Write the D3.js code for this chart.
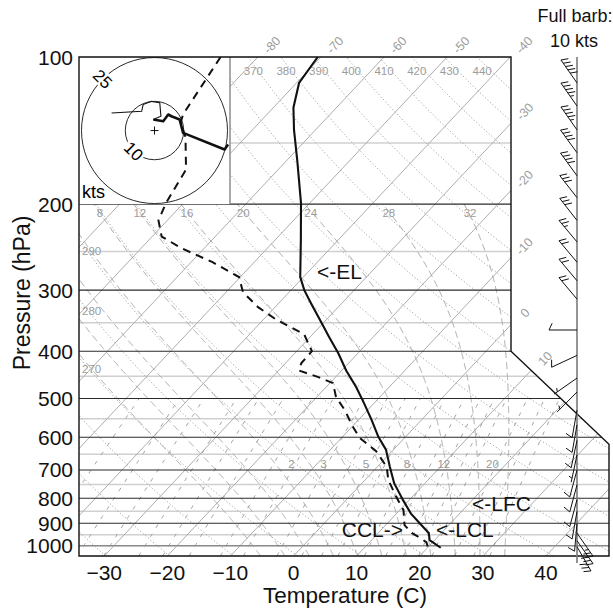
<!DOCTYPE html>
<html>
<head>
<meta charset="utf-8">
<script src="https://cdn.jsdelivr.net/npm/d3@7/dist/d3.min.js"></script>
<style>
  body { margin: 0; background: #fff; }
  svg { display: block; }
  text { font-family: "Liberation Sans", Arial, Helvetica, sans-serif; }
</style>
</head>
<body>
<svg id="chart" width="613" height="611"></svg>
<script>
// ---------------- sounding data ----------------
const tempPressure = [100, 113, 127, 141, 163, 199, 237, 282, 300, 319, 350, 374, 404, 438, 474, 511, 553, 599, 636, 690, 745, 808, 860, 917, 942, 974, 1010];
const tempValues   = [-70.5, -69.6, -66.8, -63.4, -58.3, -51.4, -45.9, -40.5, -37.9, -34.9, -30.3, -27.0, -23.1, -19.3, -15.2, -11.6, -7.9, -4.3, -1.2, 2.0, 5.1, 9.1, 12.3, 16.3, 18.0, 19.2, 22.1];

const dewPressure = [100, 131, 136, 146, 170, 181, 199, 216, 233, 246, 263, 282, 303, 325, 345, 369, 400, 423, 438, 452, 465, 497, 529, 566, 602, 641, 690, 734, 795, 846, 908, 942, 960, 984, 1010];
const dewValues   = [-85.9, -83.3, -82.5, -79.5, -74.6, -73.9, -72.8, -71.4, -68.5, -63.7, -56.6, -50.2, -47.3, -42.7, -37.9, -31.4, -27.6, -27.5, -26.8, -22.7, -19.5, -16.9, -13.5, -10.3, -7.1, -2.5, 1.5, 3.7, 7.5, 10.6, 13.0, 15.3, 17.0, 19.0, 20.1];

// winds (direction from, degrees; speed, kts)
const windPressure  = [113, 126, 141, 157, 175, 194, 216, 239, 263, 287, 313, 362, 408, 454, 485, 528, 566, 609, 652, 700, 751, 805, 851, 900, 943, 977, 1005];
const windDirection = [325, 325, 325, 324, 324, 322, 322, 320, 320, 320, 320, 270, 245, 235, 225, 190, 190, 192, 192, 195, 195, 195, 190, 185, 145, 145, 150];
const windSpeed     = [50, 45, 45, 40, 40, 30, 30, 25, 20, 20, 20, 10, 10, 5, 5, 10, 10, 10, 5, 10, 10, 10, 10, 10, 25, 30, 30];

// hodograph trace (u, v in kts): lower part drawn heavy, upper part light
const hodoLowU  = [25.2, 24.0, 9.8, 8.6, 5.8, 4.7, 3.0, -0.4];
const hodoLowV  = [-4.8, -6.5, -0.8, 3.8, 4.9, 5.5, 3.2, 3.8];
const hodoHighU = [-0.4, 2.2, 1.8, -1.0, -3.9, -4.4, -14.7];
const hodoHighV = [3.8, 4.9, 9.5, 10.0, 8.9, 6.6, 6.0];
const hodoRings = [10, 25];

// ---------------- axes and reference lines ----------------
const pressureTicks = [100, 200, 300, 400, 500, 600, 700, 800, 900, 1000];
const minorIsobars  = [150, 250, 350, 450, 550, 650, 750, 850, 950, 1000];
const tempTicks     = [-30, -20, -10, 0, 10, 20, 30, 40];
const isotherms     = [-120, -110, -100, -90, -80, -70, -60, -50, -40, -30, -20, -10, 0, 10, 20, 30, 40, 50];
const isothermTopLabels   = [-80, -70, -60, -50, -40];
const isothermRightLabels = [-30, -20, -10, 0, 10];
const dryThetas     = [240, 250, 260, 270, 280, 290, 300, 310, 320, 330, 340, 350, 360, 370, 380, 390, 400, 410, 420, 430, 440, 450];
const dryTopLabels  = [370, 380, 390, 400, 410, 420, 430, 440];
const dryLeftLabels = [290, 280, 270];
const moistThetaW   = [-8, -4, 0, 4, 8, 12, 16, 20, 24, 28, 32];
const moistLabels   = [8, 12, 16, 20, 24, 28, 32];
const mixingRatios  = [0.1, 0.2, 0.3, 0.5, 0.7, 1, 1.5, 2, 3, 4, 5, 6, 8, 10, 12, 14, 16, 20, 24, 28];
const mixingLabels  = [2, 3, 5, 8, 12, 20];

// ---------------- layout ----------------
const P_TOP = 100, P_BOTTOM = 1050;
const SKEW = 0.94;                 // horizontal px per vertical px of isotherm tilt
const x = d3.scaleLinear().domain([-34, 50]).range([79, 609]);
const y = d3.scaleLog().domain([P_TOP, P_BOTTOM]).range([57, 556]);
const yBase = y(P_BOTTOM);
const sx = (T, p) => x(T) + SKEW * (yBase - y(p));

const xLeft = x.range()[0], xRight = x.range()[1];
const innerRight = 511;            // right edge of the upper part of the frame
const stepTopP = 400, stepBottomP = 620;
const framePts = [
  [xLeft, y(P_TOP)], [innerRight, y(P_TOP)], [innerRight, y(stepTopP)],
  [xRight, y(stepBottomP)], [xRight, y(P_BOTTOM)], [xLeft, y(P_BOTTOM)]
];

// hodograph inset box
const hodo = { x0: xLeft, y0: y(P_TOP), x1: 230, y1: y(200) };
const hodoCx = (hodo.x0 + hodo.x1) / 2, hodoCy = (hodo.y0 + hodo.y1) / 2;
const hr = d3.scaleLinear().domain([0, 25]).range([0, 73]);

// barb column
const staffX = 577;

// ---------------- thermodynamics ----------------
const KAPPA = 0.2857;
const satVap = Tc => 6.112 * Math.exp(17.67 * Tc / (Tc + 243.5));
const dewFromVap = e => { const l = Math.log(e / 6.112); return 243.5 * l / (17.67 - l); };
function moistLapse(p, Tk) {
  const Rd = 287.04, Cp = 1005.7, Lv = 2.501e6, eps = 0.622;
  const es = satVap(Tk - 273.15);
  const rs = eps * es / (p - es);
  return (1 / p) * (Rd * Tk + Lv * rs) / (Cp + Lv * Lv * rs * eps / (Rd * Tk * Tk));
}
function moistAdiabat(thetaW, pEnd) {
  const up = [], down = [];
  let T = thetaW + 273.15, p = 1000, dp = -1;
  up.push([p, T]);
  while (p > pEnd) {
    const k1 = moistLapse(p, T);
    const k2 = moistLapse(p + dp / 2, T + dp / 2 * k1);
    T += dp * k2; p += dp; up.push([p, T]);
  }
  T = thetaW + 273.15; p = 1000; dp = 1;
  while (p < P_BOTTOM) {
    const k1 = moistLapse(p, T);
    const k2 = moistLapse(p + dp / 2, T + dp / 2 * k1);
    T += dp * k2; p += dp; down.push([p, T]);
  }
  return down.reverse().concat(up).map(([pp, tk]) => ({ p: pp, T: tk - 273.15 }));
}
const pLevels = (pHi, pLo, n) => d3.range(n + 1).map(i => pHi * Math.pow(pLo / pHi, i / n));

// ---------------- drawing ----------------
const svg = d3.select("#chart");
svg.append("defs").append("clipPath").attr("id", "frameClip")
  .append("polygon").attr("points", framePts.map(d => d.join(",")).join(" "));

const grid = svg.append("g").attr("clip-path", "url(#frameClip)");
const skewLine = d3.line().x(d => sx(d.T, d.p)).y(d => y(d.p));

// light isobars
grid.selectAll(".isobar-minor").data(minorIsobars).join("line")
  .attr("x1", xLeft).attr("x2", xRight).attr("y1", d => y(d)).attr("y2", d => y(d))
  .attr("stroke", d => d === 1000 ? "#a8a8a8" : "#d0d0d0").attr("stroke-width", 1.5);

// isotherms
grid.selectAll(".isotherm").data(isotherms).join("line")
  .attr("x1", d => sx(d, P_BOTTOM)).attr("y1", y(P_BOTTOM))
  .attr("x2", d => sx(d, P_TOP)).attr("y2", y(P_TOP))
  .attr("stroke", "#adadad").attr("stroke-width", 1);

// dry adiabats
const allP = pLevels(P_BOTTOM, P_TOP, 90);
grid.selectAll(".dry").data(dryThetas).join("path")
  .attr("d", th => skewLine(allP.map(p => ({ p, T: th * Math.pow(p / 1000, KAPPA) - 273.15 }))))
  .attr("fill", "none").attr("stroke", "#9a9a9a").attr("stroke-width", 0.9)
  .attr("stroke-dasharray", "1.2,2.2");

// moist adiabats
const moistCurves = moistThetaW.map(tw => ({ tw, pts: moistAdiabat(tw, 200) }));
grid.selectAll(".moist").data(moistCurves).join("path")
  .attr("d", d => skewLine(d.pts))
  .attr("fill", "none").attr("stroke", "#a5a5a5").attr("stroke-width", 1)
  .attr("stroke-dasharray", "7,4");

// mixing ratio lines
const mixP = pLevels(P_BOTTOM, 500, 40);
grid.selectAll(".mixing").data(mixingRatios).join("path")
  .attr("d", w => skewLine(mixP.map(p => ({ p, T: dewFromVap(w * p / (622 + w)) }))))
  .attr("fill", "none").attr("stroke", "#9a9a9a").attr("stroke-width", 0.9)
  .attr("stroke-dasharray", "4,7");

// major isobars
grid.selectAll(".isobar").data(pressureTicks.filter(p => p > P_TOP)).join("line")
  .attr("x1", xLeft).attr("x2", xRight).attr("y1", d => y(d)).attr("y2", d => y(d))
  .attr("stroke", d => d === 1000 ? "#8a8a8a" : "#2a2a2a").attr("stroke-width", 1.1);

// ---- grid labels ----
const glab = svg.append("g").attr("fill", "#9c9c9c").attr("font-size", 11.5);
function lastInside(T) {
  const ps = pLevels(P_BOTTOM, P_TOP, 600);
  let last = null;
  for (const p of ps) {
    const pt = [sx(T, p), y(p)];
    if (d3.polygonContains(framePts, pt)) last = pt;
  }
  return last;
}
isothermTopLabels.concat(isothermRightLabels).forEach(T => {
  const pt = lastInside(T);
  if (!pt) return;
  glab.append("text")
    .attr("transform", `translate(${pt[0] + 14},${pt[1] - 12}) rotate(-47)`)
    .attr("text-anchor", "middle").attr("dy", "0.35em").attr("font-size", 12.5)
    .text(T < 0 ? "-" + Math.abs(T) : String(T));
});
dryTopLabels.forEach(th => {
  const T = th * Math.pow(P_TOP / 1000, KAPPA) - 273.15;
  glab.append("text").attr("x", sx(T, P_TOP) + 5).attr("y", y(P_TOP) + 18)
    .attr("text-anchor", "middle").text(th);
});
dryLeftLabels.forEach(th => {
  let lo = P_TOP, hi = P_BOTTOM;
  for (let i = 0; i < 40; i++) {
    const mid = Math.sqrt(lo * hi);
    const xm = sx(th * Math.pow(mid / 1000, KAPPA) - 273.15, mid);
    if (xm < xLeft) lo = mid; else hi = mid;
  }
  glab.append("text").attr("x", xLeft + 3).attr("y", y(lo) + 16).text(th);
});
moistCurves.filter(d => moistLabels.includes(d.tw)).forEach(d => {
  const top = d.pts[d.pts.length - 1];
  glab.append("text").attr("x", sx(top.T, top.p) + 6).attr("y", y(200) + 13)
    .attr("text-anchor", "middle").text(d.tw);
});
const mixLabelP = 680;
mixingLabels.forEach(w => {
  const T = dewFromVap(w * mixLabelP / (622 + w));
  glab.append("text").attr("x", sx(T, mixLabelP) - 4).attr("y", y(mixLabelP) + 4)
    .attr("text-anchor", "middle").text(w);
});

// ---- hodograph inset ----
const hg = svg.append("g");
hg.append("rect").attr("x", hodo.x0).attr("y", hodo.y0)
  .attr("width", hodo.x1 - hodo.x0).attr("height", hodo.y1 - hodo.y0).attr("fill", "#fff");
hg.append("line").attr("x1", hodo.x1).attr("x2", hodo.x1).attr("y1", hodo.y0).attr("y2", hodo.y1)
  .attr("stroke", "#8c8c8c").attr("stroke-width", 1.5);
hg.selectAll(".ring").data(hodoRings).join("circle")
  .attr("cx", hodoCx).attr("cy", hodoCy).attr("r", d => hr(d))
  .attr("fill", "none").attr("stroke", "#111").attr("stroke-width", 0.9);
hg.append("path").attr("d", `M${hodoCx - 4},${hodoCy}h8M${hodoCx},${hodoCy - 4}v8`)
  .attr("stroke", "#111").attr("stroke-width", 1);
[[25, 135], [10, 225]].forEach(([v, ang]) => {
  const a = ang * Math.PI / 180;
  const cx = hodoCx + hr(v) * Math.cos(a), cy = hodoCy - hr(v) * Math.sin(a);
  const g = hg.append("g").attr("transform", `translate(${cx},${cy}) rotate(45)`);
  g.append("rect").attr("x", -11).attr("y", -8).attr("width", 22).attr("height", 16).attr("fill", "#fff");
  g.append("text").attr("text-anchor", "middle").attr("dy", "0.36em").attr("font-size", 17).text(v);
});
hg.append("text").attr("x", hodo.x0 + 3).attr("y", hodo.y1 - 6).attr("font-size", 18).text("kts");
const hodoLine = d3.line().x(d => hodoCx + hr(d[0])).y(d => hodoCy - hr(d[1]));
hg.append("path").attr("d", hodoLine(hodoHighU.map((u, i) => [u, hodoHighV[i]])))
  .attr("fill", "none").attr("stroke", "#111").attr("stroke-width", 1.1);
hg.append("path").attr("d", hodoLine(hodoLowU.map((u, i) => [u, hodoLowV[i]])))
  .attr("fill", "none").attr("stroke", "#111").attr("stroke-width", 2.6).attr("stroke-linejoin", "round");

// ---- temperature and dewpoint profiles ----
const profile = svg.append("g").attr("clip-path", "url(#frameClip)");
profile.append("path")
  .attr("d", skewLine(dewPressure.map((p, i) => ({ p, T: dewValues[i] }))))
  .attr("fill", "none").attr("stroke", "#111").attr("stroke-width", 2)
  .attr("stroke-dasharray", "8,6");
profile.append("path")
  .attr("d", skewLine(tempPressure.map((p, i) => ({ p, T: tempValues[i] }))))
  .attr("fill", "none").attr("stroke", "#111").attr("stroke-width", 2.1);

// ---- frame ----
svg.append("polygon").attr("points", framePts.map(d => d.join(",")).join(" "))
  .attr("fill", "none").attr("stroke", "#111").attr("stroke-width", 1.4);

// ---- parcel level annotations ----
const ann = svg.append("g").attr("font-size", 21).attr("fill", "#111");
ann.append("text").attr("x", 317).attr("y", y(285)).text("<-EL");
ann.append("text").attr("x", 472).attr("y", y(820) + 7).text("<-LFC");
ann.append("text").attr("x", 403).attr("y", y(935) + 6).attr("text-anchor", "end").text("CCL->");
ann.append("text").attr("x", 436).attr("y", y(935) + 6).text("<-LCL");

// ---- wind barbs ----
const bg = svg.append("g");
bg.append("line").attr("x1", staffX).attr("x2", staffX).attr("y1", y(P_TOP)).attr("y2", y(P_BOTTOM) + 7)
  .attr("stroke", "#7a7a7a").attr("stroke-width", 1.6);
const SHAFT = 28, FEATHER = 7.5, GAP = 4, FEATHER_TURN = 115;
function barbPath(py, dir, spd) {
  const r = dir * Math.PI / 180;
  const ux = Math.sin(r), uy = -Math.cos(r);
  const tx = staffX + ux * SHAFT, ty = py + uy * SHAFT;
  const fr = (dir + FEATHER_TURN) * Math.PI / 180;
  const fx = Math.sin(fr), fy = -Math.cos(fr);
  let d = `M${staffX},${py}L${tx},${ty}`;
  const full = Math.floor(spd / 10), half = Math.round((spd - full * 10) / 5);
  let k = 0;
  for (let i = 0; i < full; i++, k++) {
    const bx = tx - ux * GAP * k, by = ty - uy * GAP * k;
    d += `M${bx},${by}l${fx * FEATHER},${fy * FEATHER}`;
  }
  if (half) {
    if (full === 0) k = 1;
    const bx = tx - ux * GAP * k, by = ty - uy * GAP * k;
    d += `M${bx},${by}l${fx * FEATHER / 2},${fy * FEATHER / 2}`;
  }
  return d;
}
bg.selectAll(".barb").data(windPressure.map((p, i) => ({ p, dir: windDirection[i], spd: windSpeed[i] })))
  .join("path").attr("d", d => barbPath(y(d.p), d.dir, d.spd))
  .attr("fill", "none").attr("stroke", "#111").attr("stroke-width", 1);
const legend = svg.append("g").attr("font-size", 18).attr("text-anchor", "middle").attr("fill", "#111");
legend.append("text").attr("x", 575).attr("y", 22).text("Full barb:");
legend.append("text").attr("x", 574).attr("y", 47).text("10 kts");

// ---- axes ----
const axisG = svg.append("g").attr("font-size", 21).attr("fill", "#111");
axisG.selectAll(".ptick").data(pressureTicks).join("text")
  .attr("x", xLeft - 6).attr("y", d => y(d) + 7.5).attr("text-anchor", "end").text(d => d);
axisG.selectAll(".ttick").data(tempTicks).join("text")
  .attr("x", d => x(d)).attr("y", y(P_BOTTOM) + 24).attr("text-anchor", "middle")
  .text(d => d < 0 ? "\u2212" + Math.abs(d) : String(d));
svg.append("text").attr("x", 345).attr("y", 603).attr("text-anchor", "middle")
  .attr("font-size", 22.5).attr("fill", "#111").text("Temperature (C)");
svg.append("text").attr("transform", "translate(30,293) rotate(-90)").attr("text-anchor", "middle")
  .attr("font-size", 23).attr("fill", "#111").text("Pressure (hPa)");
</script>
</body>
</html>
